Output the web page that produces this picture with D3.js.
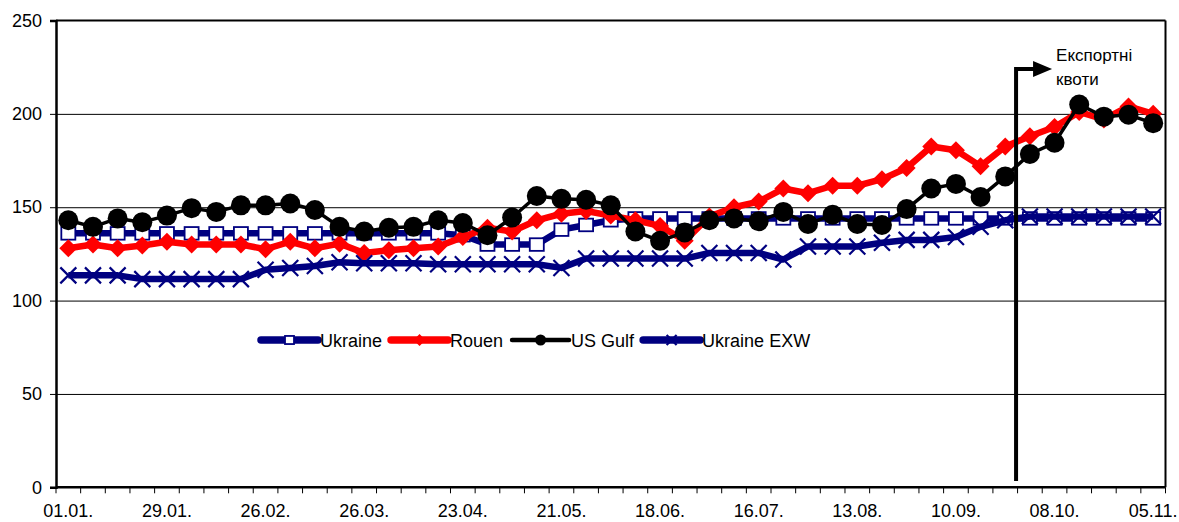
<!DOCTYPE html>
<html>
<head>
<meta charset="utf-8">
<title>Ukraine wheat prices</title>
<script src="https://cdn.jsdelivr.net/npm/d3@7"></script>
<style>
  body { margin: 0; background: #fff; }
  svg { font-family: "Liberation Sans", Arial, sans-serif; }
  .grid line { stroke: #000; stroke-width: 1; }
  .grid path { display: none; }
  .lbl { font-size: 18px; fill: #000; }
</style>
</head>
<body>
<script>
// weekly dates
var dates = ["01.01.","08.01.","15.01.","22.01.","29.01.","05.02.","12.02.","19.02.","26.02.",
  "05.03.","12.03.","19.03.","26.03.","02.04.","09.04.","16.04.","23.04.","30.04.","07.05.",
  "14.05.","21.05.","28.05.","04.06.","11.06.","18.06.","25.06.","02.07.","09.07.","16.07.",
  "23.07.","30.07.","06.08.","13.08.","20.08.","27.08.","03.09.","10.09.","17.09.","24.09.",
  "01.10.","08.10.","15.10.","22.10.","29.10.","05.11."];

var ukraine = [136,136,136,136,136,136,136,136,136,136,136,136,136,136,136,136,135,
  130,130,130,138,140.5,143,144,144,144,144,144,144,144,144,144,144,144,144,144,144,144,144,
  144,144,144,144,144,144];
var rouen = [128,130,128,129.5,131.5,130,130,130,127.5,131.5,128,130.5,125.5,127,128,129,134,
  139,137,143,146.5,148,145.5,143,140,132,145,150,153,160,157.5,161.5,161.5,165,171,182.5,
  180.5,172,182.5,188,193,201,197,204,200];
var usGulf = [143,139.5,144,142,145.5,149.5,147.5,151,151,152,148.5,139.5,137,139,139.5,143,
  141.5,135,144.5,156,154.5,154,151,137,132,136.5,143,144,142.5,147.5,141,146,141,140.5,149,
  160,162.5,155.5,166.5,178.5,184.5,205,198.5,199.5,195];
var ukraineExw = [113.5,113.5,113.5,111.5,111.5,111.5,111.5,111.5,116.5,117.5,118.5,120.5,120,
  120,120,119.5,119.5,119.5,119.5,119.5,117.5,122.5,122.5,122.5,122.5,122.5,125.5,125.5,125.5,
  122,129,129,129,131,132.5,132.5,134,139.5,143,145,145,145,145,145,145];

var seriesNames = ["Ukraine", "Rouen", "US Gulf", "Ukraine EXW"];
var yTicks = [0, 50, 100, 150, 200, 250];
var quotaStart = "01.10.";
var quotaText = ["Експортні", "квоти"];

var W = 1179, H = 522;
var plotL = 56, plotR = 1165.5, plotT = 20.5, plotB = 487.3;

var svg = d3.select("body").append("svg").attr("width", W).attr("height", H);

var x = d3.scaleBand().domain(dates).range([plotL, plotR]).padding(0);
var y = d3.scaleLinear().domain([0, 250]).range([plotB, plotT]);
var cx = function(i) { return x(dates[i]) + x.bandwidth() / 2; };

// grid
svg.append("g").attr("class", "grid")
  .attr("transform", "translate(" + plotL + ",0)")
  .call(d3.axisLeft(y).tickValues([50, 100, 150, 200]).tickSize(-(plotR - plotL)).tickFormat(""));

// frame
svg.append("line").attr("x1", plotL).attr("x2", plotR).attr("y1", y(250)).attr("y2", y(250))
  .attr("stroke", "#000").attr("stroke-width", 2);
svg.append("line").attr("x1", plotR).attr("x2", plotR).attr("y1", y(250)).attr("y2", y(0))
  .attr("stroke", "#000").attr("stroke-width", 2);

// y axis
var yAxis = svg.append("g").attr("transform", "translate(" + plotL + ",0)")
  .call(d3.axisLeft(y).tickValues(yTicks).tickSize(6).tickPadding(8));
yAxis.select(".domain").attr("stroke-width", 2.5);
yAxis.selectAll(".tick line").attr("stroke-width", 1);
yAxis.selectAll("text").attr("class", "lbl").attr("font-size", null).attr("font-family", null);

// x axis
var xg = svg.append("g");
xg.append("line").attr("x1", plotL).attr("x2", plotR).attr("y1", plotB).attr("y2", plotB)
  .attr("stroke", "#000").attr("stroke-width", 2.5);
xg.selectAll(".tk").data(dates.concat(["end"])).enter().append("line")
  .attr("x1", function(d, i) { return i < dates.length ? x(d) : plotR; })
  .attr("x2", function(d, i) { return i < dates.length ? x(d) : plotR; })
  .attr("y1", plotB).attr("y2", plotB + 6).attr("stroke", "#000");
xg.selectAll(".xl").data(dates.filter(function(d, i) { return i % 4 === 0; })).enter()
  .append("text").attr("class", "lbl")
  .attr("x", function(d) { return x(d) + x.bandwidth() / 2; })
  .attr("y", 517).attr("text-anchor", "middle").text(function(d) { return d; });

// markers
function square(g, s) {
  return g.append("rect").attr("x", -s / 2).attr("y", -s * 0.45).attr("width", s).attr("height", s * 0.9)
    .attr("fill", "#fff").attr("stroke", "#000080").attr("stroke-width", 1.8);
}
function diamond(g, s) {
  return g.append("path").attr("d", "M0," + (-s / 2) + "L" + (s / 2) + ",0L0," + (s / 2) + "L" + (-s / 2) + ",0Z")
    .attr("fill", "#ff0000");
}
function circle(g, s) {
  return g.append("circle").attr("r", s / 2).attr("fill", "#000");
}
function cross(g, s) {
  var h = s / 2;
  return g.append("path").attr("d", "M" + (-h) + "," + (-h) + "L" + h + "," + h + "M" + (-h) + "," + h + "L" + h + "," + (-h))
    .attr("stroke", "#000080").attr("stroke-width", 2.2).attr("fill", "none");
}

var series = [
  { name: seriesNames[0], values: ukraine, color: "#000080", width: 6.5, marker: square, size: 14, lsize: 9 },
  { name: seriesNames[1], values: rouen, color: "#ff0000", width: 6.5, marker: diamond, size: 18, lsize: 12 },
  { name: seriesNames[2], values: usGulf, color: "#000000", width: 3.5, marker: circle, size: 20, lsize: 11 },
  { name: seriesNames[3], values: ukraineExw, color: "#000080", width: 6.5, marker: cross, size: 16, lsize: 10 }
];

var line = d3.line().x(function(d, i) { return cx(i); }).y(function(d) { return y(d); });

series.forEach(function(s) {
  var g = svg.append("g");
  g.append("path").datum(s.values).attr("d", line).attr("fill", "none")
    .attr("stroke", s.color).attr("stroke-width", s.width).attr("stroke-linejoin", "round");
  s.values.forEach(function(v, i) {
    var m = g.append("g").attr("transform", "translate(" + cx(i) + "," + y(v) + ")");
    s.marker(m, s.size);
  });
});

// legend
var lx = 261, ly = 340;
series.forEach(function(s) {
  var g = svg.append("g");
  g.append("line").attr("x1", lx).attr("x2", lx + 57).attr("y1", ly).attr("y2", ly)
    .attr("stroke", s.color).attr("stroke-width", s.width + 1).attr("stroke-linecap", "round");
  var m = g.append("g").attr("transform", "translate(" + (lx + 28.5) + "," + ly + ")");
  s.marker(m, s.lsize);
  var t = g.append("text").attr("class", "lbl").attr("x", lx + 59).attr("y", ly + 6.5).text(s.name);
  lx = lx + 59 + t.node().getComputedTextLength() + 9;
});

// quota marker
var qx = x(quotaStart) - 1.5, qTop = 69;
svg.append("path")
  .attr("d", "M" + qx + ",481V" + qTop + "H" + (qx + 18))
  .attr("fill", "none").attr("stroke", "#000").attr("stroke-width", 4);
svg.append("path")
  .attr("d", "M" + (qx + 17) + "," + (qTop - 8) + "L" + (qx + 36) + "," + qTop + "L" + (qx + 17) + "," + (qTop + 8) + "Z")
  .attr("fill", "#000");
svg.selectAll(".qt").data(quotaText).enter().append("text")
  .attr("x", qx + 40).attr("y", function(d, i) { return 61 + i * 24; })
  .attr("font-size", 17).text(function(d) { return d; });
</script>
</body>
</html>
